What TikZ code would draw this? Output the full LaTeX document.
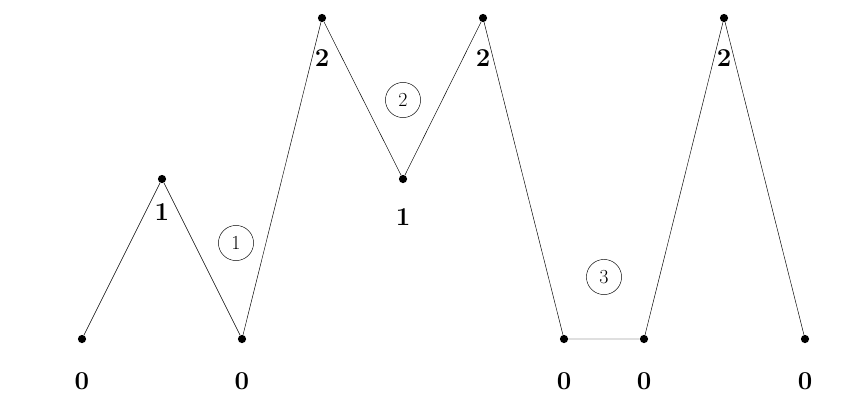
\documentclass[tikz,border=0pt]{standalone}
\begin{document}
\begin{tikzpicture}[x=0.03cm,y=-0.03cm,
  dot/.style={circle,fill=black,inner sep=0pt,minimum size=7pt},
  lab/.style={font=\fontsize{22}{24}\selectfont\bfseries},
  circ/.style={circle,draw,thin,minimum size=30pt,inner sep=0pt,font=\fontsize{17}{19}\selectfont}]
\useasboundingbox (0,0) rectangle (851,412);
\foreach \n/\x/\y in {a/82/339,b/162/179,c/242/339,d/322/18,e/403/179,f/483/18,g/564/339,h/644/339,i/724/18,j/805/339}
  \node[dot] (\n) at (\x,\y) {};
\draw (a)--(b)--(c)--(d)--(e)--(f)--(g)--(h)--(i)--(j);
\foreach \x/\y/\t/\m in {82/381/0/la,162/212/1/lb,242/381/0/lc,322/58/2/ld,403/217/1/le,483/58/2/lf,564/381/0/lg,644/381/0/lh,724/58/2/li,805/381/0/lj}
  \node[lab] (\m) at (\x,\y) {\t};
\node[circ] (c1) at (236,243) {1};
\node[circ] (c2) at (403,100) {2};
\node[circ] (c3) at (604,277) {3};
\end{tikzpicture}
\end{document}
